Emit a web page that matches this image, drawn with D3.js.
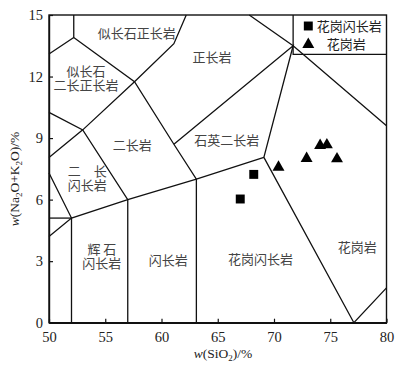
<!DOCTYPE html>
<html>
<head>
<meta charset="utf-8">
<script src="https://cdn.jsdelivr.net/npm/d3@7"></script>
<style>
  body { margin: 0; background: #fff; }
  svg { display: block; }
  .cn { font-family: "Noto Sans CJK SC", sans-serif; }
</style>
</head>
<body>
<script>
let width = 406;
let height = 374;

// SiO2 (%) vs Na2O+K2O (%)
const granodioriteSiO2 = [67.0, 68.2];
const granodioriteAlk = [6.03, 7.23];
const graniteSiO2 = [70.4, 72.9, 74.1, 74.7, 75.6];
const graniteAlk = [7.65, 8.08, 8.71, 8.74, 8.06];

const xTicks = [50, 55, 60, 65, 70, 75, 80];
const yTicks = [0, 3, 6, 9, 12, 15];

// field boundaries, [SiO2, alkali] pairs
const boundaries = [
  [[52.2, 15], [52.2, 13.9]],
  [[50, 13.1], [52.2, 13.9], [57.6, 11.75], [61.1, 8.7], [63.1, 7.0], [63.1, 0]],
  [[57.6, 11.75], [61.1, 13.6], [62.2, 15]],
  [[50, 8.05], [53.0, 9.4], [57.6, 11.75]],
  [[50, 10.25], [53.0, 9.4], [57.0, 6.0], [57.0, 0]],
  [[61.1, 8.7], [71.7, 13.5], [69.1, 8.06], [77.1, 0], [80, 1.7]],
  [[67.8, 15], [71.7, 13.5], [80, 9.6]],
  [[50, 7.3], [52.0, 5.1], [52.0, 0]],
  [[50, 5.1], [52.0, 5.1]],
  [[50, 4.2], [52.0, 5.1], [57.0, 6.0], [63.1, 7.0], [69.1, 8.06]]
];

// multi-line names use \n; position is the first line
const fieldNames = ['似长石正长岩', '正长岩', '似长石\n二长正长岩', '二长岩', '石英二长岩',
  '二\u3000长\n闪长岩', '辉 石\n闪长岩', '闪长岩', '花岗闪长岩', '花岗岩'];
const fieldX = [57.8, 64.5, 53.3, 57.4, 65.8, 53.4, 54.7, 60.6, 68.8, 77.4];
const fieldY = [14.12, 12.92, 12.27, 8.66, 8.91, 7.36, 3.59, 3.04, 3.09, 3.66];

const legendNames = ['花岗闪长岩', '花岗岩'];

let svg = d3.select('body').append('svg').attr('width', width).attr('height', height);

let x = d3.scaleLinear().domain([50, 80]).range([49, 386.5]);
let y = d3.scaleLinear().domain([0, 15]).range([322.7, 15]);

// frame
svg.append('rect')
  .attr('x', x(50)).attr('y', y(15))
  .attr('width', x(80) - x(50)).attr('height', y(0) - y(15))
  .attr('fill', 'none').attr('stroke', '#111').attr('stroke-width', 1.4);

let xAxis = svg.append('g')
  .attr('transform', `translate(0,${y(0)})`)
  .call(d3.axisBottom(x).tickValues(xTicks).tickSizeInner(-4).tickSizeOuter(0).tickPadding(9));
let yAxis = svg.append('g')
  .attr('transform', `translate(${x(50)},0)`)
  .call(d3.axisLeft(y).tickValues(yTicks).tickSizeInner(-4).tickSizeOuter(0).tickPadding(6));

[xAxis, yAxis].forEach(a => {
  a.select('.domain').attr('stroke', '#111').attr('stroke-width', 1.4);
  a.selectAll('line').attr('stroke', '#111').attr('stroke-width', 1.2);
  a.selectAll('text')
    .attr('fill', '#222')
    .style('font-family', '"Liberation Serif", serif')
    .style('font-size', '14.5px');
});

// boundaries
let line = d3.line().x(d => x(d[0])).y(d => y(d[1]));
svg.append('g').selectAll('path')
  .data(boundaries)
  .enter()
    .append('path')
    .attr('d', line)
    .attr('fill', 'none')
    .attr('stroke', '#111')
    .attr('stroke-width', 1.3);

// field labels
svg.append('g').selectAll('text')
  .data(fieldNames)
  .enter()
    .append('text')
    .attr('class', 'cn')
    .attr('y', (d, i) => y(fieldY[i]))
    .attr('text-anchor', 'middle')
    .attr('fill', '#444')
    .style('font-size', '13px')
    .each(function(d, i) {
      let t = d3.select(this);
      d.split('\n').forEach((s, k) => {
        t.append('tspan')
          .attr('x', x(fieldX[i]))
          .attr('dy', k == 0 ? '0.36em' : '14px')
          .text(s);
      });
    });

// legend box
let lx = x(71.7);
svg.append('path')
  .attr('d', `M${lx},${y(15)}V54.3H${x(80)}`)
  .attr('fill', 'none').attr('stroke', '#111').attr('stroke-width', 1.3);

let square = d3.symbol().type(d3.symbolSquare).size(80);
let triangle = d3.symbol().type(d3.symbolTriangle).size(62);

svg.append('path').attr('d', square()).attr('transform', 'translate(308.3,26)').attr('fill', '#000');
svg.append('path').attr('d', triangle()).attr('transform', 'translate(308.3,44.5)').attr('fill', '#000');
svg.append('text').attr('class', 'cn').attr('x', 316.7).attr('y', 26).attr('dy', '0.36em')
  .attr('fill', '#222').style('font-size', '13px').text(legendNames[0]);
svg.append('text').attr('class', 'cn').attr('x', 326.7).attr('y', 44).attr('dy', '0.36em')
  .attr('fill', '#222').style('font-size', '13px').text(legendNames[1]);

// data points
svg.append('g').selectAll('path')
  .data(granodioriteSiO2)
  .enter()
    .append('path')
    .attr('d', square())
    .attr('transform', (d, i) => `translate(${x(d)},${y(granodioriteAlk[i])})`)
    .attr('fill', '#000');

svg.append('g').selectAll('path')
  .data(graniteSiO2)
  .enter()
    .append('path')
    .attr('d', triangle())
    .attr('transform', (d, i) => `translate(${x(d)},${y(graniteAlk[i]) + 1.5})`)
    .attr('fill', '#000');

// axis titles
let xt = svg.append('text')
  .attr('x', 223).attr('y', 358)
  .attr('text-anchor', 'middle')
  .attr('fill', '#222')
  .style('font-family', '"Liberation Serif", serif')
  .style('font-size', '13.5px');
xt.append('tspan').style('font-style', 'italic').text('w');
xt.append('tspan').text('(SiO');
xt.append('tspan').attr('dy', 3).style('font-size', '9px').text('2');
xt.append('tspan').attr('dy', -3).text(')/%');

let yt = svg.append('text')
  .attr('transform', 'translate(19,179) rotate(-90)')
  .attr('text-anchor', 'middle')
  .attr('fill', '#222')
  .style('font-family', '"Liberation Serif", serif')
  .style('font-size', '13.5px');
yt.append('tspan').style('font-style', 'italic').text('w');
yt.append('tspan').text('(Na');
yt.append('tspan').attr('dy', 3).style('font-size', '9px').text('2');
yt.append('tspan').attr('dy', -3).text('O+K');
yt.append('tspan').attr('dy', 3).style('font-size', '9px').text('2');
yt.append('tspan').attr('dy', -3).text('O)/%');
</script>
</body>
</html>
